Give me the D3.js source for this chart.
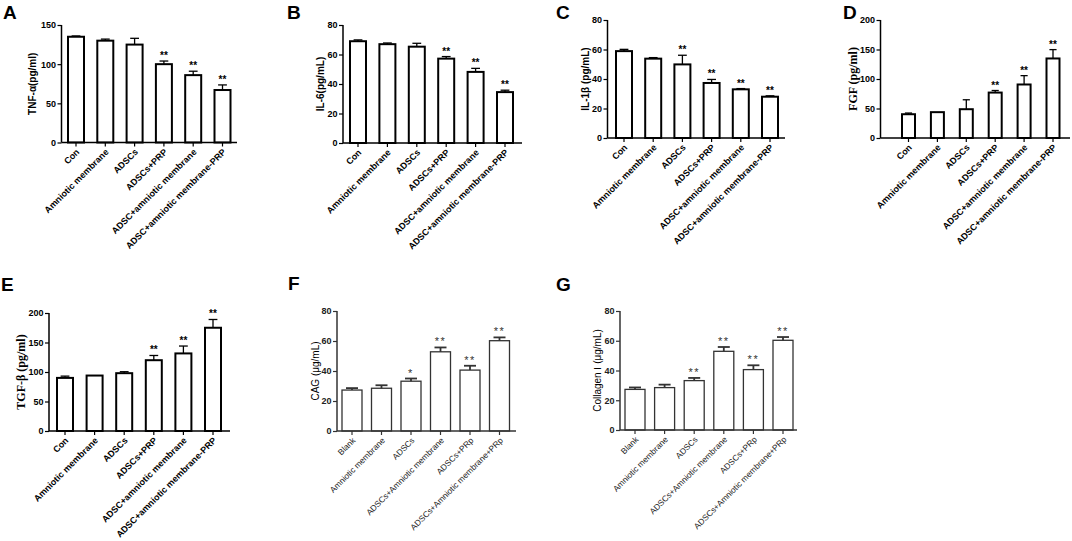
<!DOCTYPE html>
<html>
<head>
<meta charset="utf-8">
<script src="https://cdn.jsdelivr.net/npm/d3@7"></script>
<style>
  body { margin: 0; background: #fff; }
  svg { display: block; }
</style>
</head>
<body>
<div id="chart"></div>
<script>
// ---- data ----
var groupsAE = ["Con", "Amniotic membrane", "ADSCs", "ADSCs+PRP",
                "ADSC+amniotic membrane", "ADSC+amniotic membrane-PRP"];
var groupsFG = ["Blank", "Amniotic membrane", "ADSCs", "ADSCs+Amniotic membrane",
                "ADSCs+PRp", "ADSCs+Amniotic membrane+PRp"];

var tnfMean = [135, 130, 125, 100, 86, 67];
var tnfErr  = [1, 2, 8, 4, 5, 6.5];
var tnfSig  = ["", "", "", "**", "**", "**"];

var il6Mean = [69, 67, 65.3, 57.2, 48.2, 34.5];
var il6Err  = [0.9, 0.8, 2.3, 1.4, 2.4, 1.3];
var il6Sig  = ["", "", "", "**", "**", "**"];

var il1Mean = [58.9, 53.8, 49.9, 37.3, 33, 28];
var il1Err  = [1.2, 0.7, 6.2, 2.4, 0.5, 0.6];
var il1Sig  = ["", "", "**", "**", "**", "**"];

var fgfMean = [40.3, 43.8, 48.8, 77, 90.7, 134.8];
var fgfErr  = [2, 0, 16, 3.5, 15, 15];
var fgfSig  = ["", "", "", "**", "**", "**"];

var tgfMean = [90, 94, 98, 120, 131.5, 175];
var tgfErr  = [3, 0, 2.5, 8, 12.5, 14];
var tgfSig  = ["", "", "", "**", "**", "**"];

var cagMean = [27.3, 28.5, 33.2, 52.8, 40.6, 60.2];
var cagErr  = [1.3, 2, 1.8, 2.9, 2.9, 2.2];
var cagSig  = ["", "", "*", "**", "**", "**"];

var colMean = [27.3, 28.5, 33.2, 52.9, 40.6, 60.3];
var colErr  = [1.3, 2, 1.8, 2.9, 2.9, 2.2];
var colSig  = ["", "", "**", "**", "**", "**"];

var ticks150 = [0, 50, 100, 150];
var ticks80  = [0, 20, 40, 60, 80];
var ticks200 = [0, 50, 100, 150, 200];

// ---- panel layout ----
var W = 1072, H = 541;
var sans = "'Liberation Sans', Arial, sans-serif";
var serif = "'Liberation Serif', 'Times New Roman', serif";

var panels = [
  {letter: "A", lx: 3, ly: 19, x0: 61.5, x1: 237, top: 25, bottom: 142.5, first: 76, step: 29.3, bw: 16,
   groups: groupsAE, mean: tnfMean, err: tnfErr, sig: tnfSig, ymax: 150, ticks: ticks150,
   ylabel: "TNF-α(pg/ml)", labX: 33, style: "bold"},
  {letter: "B", lx: 287, ly: 19, x0: 343, x1: 522, top: 25, bottom: 143, first: 358, step: 29.4, bw: 16,
   groups: groupsAE, mean: il6Mean, err: il6Err, sig: il6Sig, ymax: 80, ticks: ticks80,
   ylabel: "IL-6(pg/mL)", labX: 321, style: "bold"},
  {letter: "C", lx: 556, ly: 19, x0: 607.5, x1: 785, top: 20, bottom: 138, first: 624, step: 29.2, bw: 16,
   groups: groupsAE, mean: il1Mean, err: il1Err, sig: il1Sig, ymax: 80, ticks: ticks80,
   ylabel: "IL-1β (pg/mL)", labX: 586, style: "bold"},
  {letter: "D", lx: 843, ly: 19, x0: 880.5, x1: 1070, top: 20, bottom: 138, first: 908.5, step: 28.9, bw: 13,
   groups: groupsAE, mean: fgfMean, err: fgfErr, sig: fgfSig, ymax: 200, ticks: ticks200,
   ylabel: "FGF (pg/ml)", labX: 854, style: "bold", serifLabel: true},
  {letter: "E", lx: 1, ly: 291, x0: 49, x1: 230, top: 313, bottom: 431, first: 65, step: 29.6, bw: 16,
   groups: groupsAE, mean: tgfMean, err: tgfErr, sig: tgfSig, ymax: 200, ticks: ticks200,
   ylabel: "TGF-β (pg/ml)", labX: 22, style: "bold", serifLabel: true},
  {letter: "F", lx: 288, ly: 290, x0: 337, x1: 516, top: 311, bottom: 431, first: 352, step: 29.5, bw: 20,
   groups: groupsFG, mean: cagMean, err: cagErr, sig: cagSig, ymax: 80, ticks: ticks80,
   ylabel: "CAG (μg/mL)", labX: 316, style: "light"},
  {letter: "G", lx: 556, ly: 291, x0: 620, x1: 797, top: 311, bottom: 430, first: 635, step: 29.6, bw: 20,
   groups: groupsFG, mean: colMean, err: colErr, sig: colSig, ymax: 80, ticks: ticks80,
   ylabel: "Collagen Ⅰ  (μg/mL)", labX: 598, style: "light"}
];

var svg = d3.select("#chart").append("svg")
    .attr("width", W)
    .attr("height", H);

svg.append("rect").attr("width", W).attr("height", H).attr("fill", "#fff");

panels.forEach(function(p) {
  var bold = p.style === "bold";
  var ink = bold ? "#000" : "#333";
  var barStroke = bold ? 2 : 1.3;

  var g = svg.append("g");

  // panel letter
  g.append("text")
    .attr("x", p.lx).attr("y", p.ly)
    .attr("font-family", sans).attr("font-weight", "bold")
    .attr("font-size", 19).attr("fill", "#000")
    .text(p.letter);

  var start = p.first - p.step / 2;
  var x = d3.scaleBand()
    .domain(p.groups)
    .range([start, start + p.step * p.groups.length])
    .paddingInner(0).paddingOuter(0);

  var y = d3.scaleLinear()
    .domain([0, p.ymax])
    .range([p.bottom, p.top]);

  var data = p.groups.map(function(d, i) {
    return {name: d, mean: p.mean[i], err: p.err[i], sig: p.sig[i]};
  });

  // bars
  g.selectAll(".bar")
    .data(data)
    .enter().append("rect")
      .attr("x", function(d) { return x(d.name) + x.bandwidth() / 2 - p.bw / 2; })
      .attr("y", function(d) { return y(d.mean); })
      .attr("width", p.bw)
      .attr("height", function(d) { return y(0) - y(d.mean); })
      .attr("fill", "#fff")
      .attr("stroke", ink)
      .attr("stroke-width", barStroke);

  // error bars (upper only)
  var cap = bold ? p.bw * 0.55 : 12;
  var errG = g.selectAll(".err")
    .data(data.filter(function(d) { return d.err > 0; }))
    .enter().append("g")
      .attr("stroke", ink)
      .attr("stroke-width", bold ? 1.3 : 1.8);
  errG.append("line")
    .attr("x1", function(d) { return x(d.name) + x.bandwidth() / 2; })
    .attr("x2", function(d) { return x(d.name) + x.bandwidth() / 2; })
    .attr("y1", function(d) { return y(d.mean); })
    .attr("y2", function(d) { return y(d.mean + d.err); });
  errG.append("line")
    .attr("x1", function(d) { return x(d.name) + x.bandwidth() / 2 - cap / 2; })
    .attr("x2", function(d) { return x(d.name) + x.bandwidth() / 2 + cap / 2; })
    .attr("y1", function(d) { return y(d.mean + d.err); })
    .attr("y2", function(d) { return y(d.mean + d.err); });

  // significance stars
  g.selectAll(".sig")
    .data(data.filter(function(d) { return d.sig !== ""; }))
    .enter().append("text")
      .attr("x", function(d) { return x(d.name) + x.bandwidth() / 2; })
      .attr("y", function(d) { return y(d.mean + d.err) - 2; })
      .attr("text-anchor", "middle")
      .attr("font-family", sans)
      .attr("font-weight", bold ? "bold" : "normal")
      .attr("font-size", bold ? 10 : 11)
      .attr("letter-spacing", bold ? 0 : 1.5)
      .attr("fill", ink)
      .text(function(d) { return d.sig; });

  // y axis
  var yAxis = g.append("g")
    .attr("transform", "translate(" + p.x0 + ",0)")
    .call(d3.axisLeft(y).tickValues(p.ticks).tickSize(4).tickPadding(1.5).tickFormat(d3.format("d")));
  yAxis.select(".domain").attr("d", "M0," + p.top + "V" + p.bottom);

  // x axis
  var xAxis = g.append("g")
    .attr("transform", "translate(0," + p.bottom + ")")
    .call(d3.axisBottom(x).tickSize(4).tickSizeOuter(0));
  xAxis.select(".domain").attr("d", "M" + p.x0 + ",0H" + p.x1);

  [yAxis, xAxis].forEach(function(a) {
    a.select(".domain").attr("stroke", ink).attr("stroke-width", 1.5);
    a.selectAll(".tick line").attr("stroke", ink).attr("stroke-width", 1.2);
    a.selectAll("text")
      .attr("font-family", sans)
      .attr("font-weight", bold ? "bold" : "normal")
      .attr("fill", bold ? "#000" : "#222");
  });
  yAxis.selectAll("text").attr("font-size", 9).attr("font-weight", "bold");

  xAxis.selectAll(".tick text")
    .attr("font-size", bold ? 9 : 8.3)
    .attr("text-anchor", "end")
    .attr("dy", null)
    .attr("y", null)
    .attr("transform", "translate(4,10) rotate(-45)");

  // y label
  var midY = (p.top + p.bottom) / 2;
  g.append("text")
    .attr("transform", "translate(" + p.labX + "," + midY + ") rotate(-90)")
    .attr("text-anchor", "middle")
    .attr("dominant-baseline", "middle")
    .attr("font-family", p.serifLabel ? serif : sans)
    .attr("font-weight", bold ? "bold" : "normal")
    .attr("font-size", p.serifLabel ? 12 : 10)
    .attr("fill", "#000")
    .text(p.ylabel);
});
</script>
</body>
</html>
